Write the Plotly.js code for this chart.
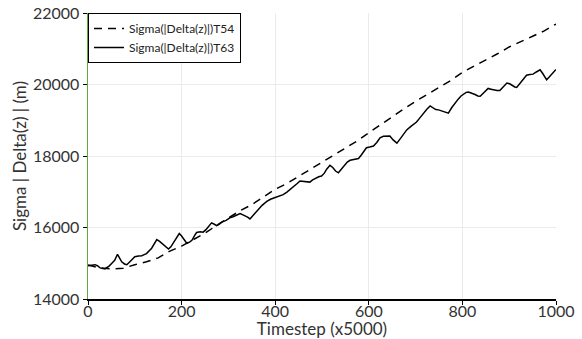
<!DOCTYPE html>
<html>
<head>
<meta charset="utf-8">
<script src="https://cdn.plot.ly/plotly-3.0.1.min.js"></script>
<style>html,body{margin:0;padding:0;background:#fff;}#chart{width:582px;height:339px;}</style>
</head>
<body>
<div id="chart"></div>
<script>
// T54 series (dashed)
const t54X = [0,25,50,75,100,125,150,175,200,225,250,275,300,325,350,375,400,425,450,475,500,525,550,575,600,625,650,675,700,725,750,775,800,825,850,875,900,925,950,975,1000];
const t54Y = [14950,14870,14840,14860,14960,15040,15150,15340,15480,15650,15840,16060,16270,16470,16640,16850,17070,17230,17430,17630,17840,18030,18220,18420,18650,18880,19100,19320,19530,19720,19910,20110,20340,20510,20680,20860,21050,21210,21350,21500,21690];

// T63 series (solid)
const t63X = [0,8,15,20,26,36,45,51,57,63,68,72,78,83,90,100,108,115,120,125,136,142,147,153,161,167,172,177,182,188,195,200,205,211,217,222,228,232,240,246,252,258,264,270,275,280,286,295,303,310,318,325,330,335,341,346,352,358,365,372,382,390,400,410,417,425,433,440,447,453,460,467,474,480,487,493,499,505,510,517,523,529,535,541,548,554,560,566,572,578,584,590,595,602,610,617,624,631,638,645,652,660,667,674,681,690,697,702,710,717,724,731,737,743,749,756,763,770,777,784,791,797,802,808,813,820,827,833,838,844,850,855,861,868,874,880,886,891,895,901,907,912,916,923,930,937,944,951,958,966,972,977,980,985,991,998,1000];
const t63Y = [14930,14950,14960,14930,14870,14840,14920,15000,15080,15250,15130,15040,14980,14960,15050,15180,15200,15210,15240,15270,15420,15560,15660,15610,15520,15450,15400,15460,15560,15700,15830,15760,15660,15560,15590,15640,15780,15860,15880,15870,15940,16050,16130,16090,16050,16090,16150,16200,16270,16300,16350,16390,16360,16330,16290,16240,16330,16440,16540,16620,16730,16790,16840,16890,16920,16990,17070,17150,17230,17300,17290,17260,17270,17330,17380,17420,17440,17520,17630,17740,17680,17580,17530,17620,17740,17830,17880,17900,17900,17930,18030,18150,18230,18250,18280,18380,18510,18550,18550,18560,18450,18360,18480,18620,18730,18830,18900,18950,19080,19200,19310,19400,19350,19300,19290,19260,19230,19200,19350,19480,19590,19680,19730,19780,19790,19760,19720,19680,19670,19750,19830,19890,19870,19840,19830,19830,19920,20000,20040,20020,19960,19930,19920,20040,20170,20260,20280,20290,20350,20410,20300,20180,20130,20200,20300,20410,20420];

const seriesNames = ['Sigma(|Delta(z)|)T54', 'Sigma(|Delta(z)|)T63'];
const xTicks = [0,200,400,600,800,1000];
const yTicks = [14000,16000,18000,20000,22000];

const FONT = 'Lato, "DejaVu Sans", sans-serif';

const traces = [
  {x: t54X, y: t54Y, name: seriesNames[0], type: 'scatter', mode: 'lines',
   line: {color: '#000', width: 1.5, dash: '8px,6px'}},
  {x: t63X, y: t63Y, name: seriesNames[1], type: 'scatter', mode: 'lines',
   line: {color: '#000', width: 1.5}}
];

const layout = {
  width: 582, height: 339,
  margin: {l: 88, r: 26, t: 13, b: 40},
  paper_bgcolor: '#fff', plot_bgcolor: '#fff',
  font: {family: FONT, size: 16, color: '#333'},
  showlegend: true,
  legend: {x: 0, y: 1, xanchor: 'left', yanchor: 'top', bgcolor: '#fff',
           bordercolor: '#000', borderwidth: 1, font: {size: 12, color: '#222'},
           tracegroupgap: 0, itemwidth: 30},
  xaxis: {range: [0, 1000], tickvals: xTicks, ticktext: xTicks.map(String),
          showgrid: true, gridcolor: '#ebebeb', zeroline: false,
          showline: true, linecolor: '#000', linewidth: 1.5,
          ticks: 'outside', ticklen: 4, tickcolor: '#000',
          ticklabelstandoff: -7,
          tickfont: {size: 16, color: '#333'},
          title: {text: 'Timestep (x5000)', font: {size: 17, color: '#333'}, standoff: 0}},
  yaxis: {range: [14000, 22000], tickvals: yTicks, ticktext: yTicks.map(String),
          showgrid: true, gridcolor: '#ebebeb', zeroline: false,
          showline: true, linecolor: '#5fa83a', linewidth: 1.5,
          ticks: 'outside', ticklen: 4, tickcolor: '#000',
          tickfont: {size: 16, color: '#333'},
          title: {text: 'Sigma | Delta(z) | (m)', font: {size: 17, color: '#333'}, standoff: 2}}
};

Plotly.newPlot('chart', traces, layout, {displayModeBar: false, staticPlot: true});
</script>
</body>
</html>
